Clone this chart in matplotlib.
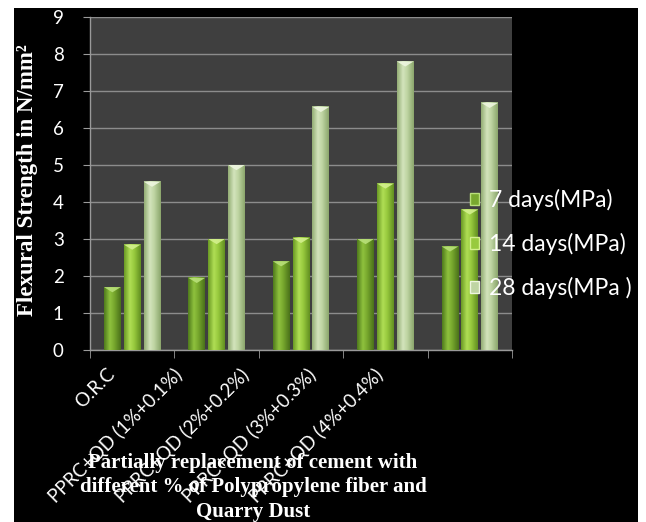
import numpy as np
import matplotlib
matplotlib.use("Agg")
import matplotlib.pyplot as plt
from matplotlib.colors import LinearSegmentedColormap
from matplotlib.patches import Rectangle, Patch, Polygon
from matplotlib.transforms import ScaledTranslation

# Flexural strength (N/mm2) per mix
mezclas = ["O.R.C", "PPRC+QD (1%+0.1%)", "PPRC+QD (2%+0.2%)",
           "PPRC+QD (3%+0.3%)", "PPRC+QD (4%+0.4%)"]
dias_7 = [1.7, 1.95, 2.4, 3.0, 2.8]
dias_14 = [2.85, 3.0, 3.03, 4.5, 3.8]
dias_28 = [4.55, 5.0, 6.57, 7.8, 6.68]
series = ["7 days(MPa)", "14 days(MPa)", "28 days(MPa )"]

# edge, highlight, mid, edge  (cylinder-like shading)
tonos = [
    ["#4f7a1c", "#8fc23e", "#78a82e", "#4a7219"],
    ["#6a9a24", "#b0de55", "#98ca3e", "#628f20"],
    ["#93ad74", "#d3e4bc", "#bfd5a3", "#8ba66c"],
]
tapas = ["#b9e07a", "#d4f08e", "#eef6e0"]

fuente = "Lato"
serif = "Liberation Serif"

fig = plt.figure(figsize=(6.46, 5.22), dpi=100, facecolor="white")
fondo = Rectangle((14 / 646, 0), (638 - 14) / 646, 1 - 8 / 522,
                  transform=fig.transFigure, facecolor="black",
                  edgecolor="none", zorder=-5)
fig.add_artist(fondo)

ax = fig.add_axes([90 / 646, 1 - 350 / 522, 422 / 646, 333 / 522])
ax.set_zorder(1)
ax.set_facecolor("#3f3f3f")

x = np.arange(len(mezclas))
ancho = 0.2
paso = 0.235
for k, valores in enumerate([dias_7, dias_14, dias_28]):
    cmap = LinearSegmentedColormap.from_list(f"s{k}", list(zip([0, 0.35, 0.6, 1], tonos[k])))
    grad = np.linspace(0, 1, 64).reshape(1, -1)
    for xi, v in zip(x + (k - 1) * paso, valores):
        x0, x1 = xi - ancho / 2, xi + ancho / 2
        ax.imshow(grad, cmap=cmap, extent=(x0, x1, 0, v), aspect="auto",
                  interpolation="bilinear", zorder=3)
        ax.add_patch(Polygon([(x0, v), (x1, v), (xi, v - 0.14)], closed=True,
                             facecolor=tapas[k], edgecolor="none", alpha=0.9, zorder=4))

ax.set_xlim(-0.5, len(mezclas) - 0.5)
ax.set_ylim(0, 9)
ax.set_yticks(range(0, 10))
ax.grid(axis="y", color="#8c8c8c", linewidth=1.0, zorder=1)
ax.set_axisbelow(True)

for s in ["top", "right"]:
    ax.spines[s].set_visible(False)
for s in ["left", "bottom"]:
    ax.spines[s].set_color("#9a9a9a")
    ax.spines[s].set_linewidth(1.0)

ax.tick_params(axis="y", colors="#9a9a9a", length=5, labelcolor="white",
               labelsize=13.5, pad=14)
for lab in ax.get_yticklabels():
    lab.set_fontfamily(fuente)

ax.set_xticks(x)
ax.set_xticks(np.arange(-0.5, len(mezclas)), minor=True)
ax.tick_params(axis="x", which="minor", length=6, color="#9a9a9a")
ax.tick_params(axis="x", which="major", length=0, pad=11, labelcolor="white")
ax.set_xticklabels(mezclas, rotation=45, ha="right", va="top",
                   rotation_mode="anchor", fontsize=13.5, fontfamily=fuente)
for i, lab in enumerate(ax.get_xticklabels()):
    lab.set_transform(lab.get_transform() +
                      ScaledTranslation(-(0.26 + 0.175 * i), 0, fig.dpi_scale_trans))

ax.set_ylabel("Flexural Strength in N/mm²", color="white", fontsize=16.5,
              fontweight="bold", fontfamily=serif, va="center")
ax.yaxis.set_label_coords(-0.149, 0.51)

ax.set_xlabel("Partially replacement of cement with\ndifferent % of Polypropylene fiber and\nQuarry Dust",
              color="white", fontsize=15, fontweight="bold", fontfamily=serif,
              linespacing=1.3, va="top")
ax.xaxis.set_label_coords(0.386, -0.309)

handles = [Patch(facecolor=tonos[k][2], edgecolor=tapas[k]) for k in range(3)]
leg = fig.legend(handles, series, loc="center left",
                 bbox_to_anchor=(470 / 646, 1 - 244 / 522), frameon=False,
                 prop={"family": fuente, "size": 16.5}, handlelength=0.4,
                 handleheight=0.4, handletextpad=0.45, labelspacing=0.95,
                 borderpad=0, borderaxespad=0)
leg.set_zorder(5)
for t in leg.get_texts():
    t.set_color("white")

fig.savefig("out.png", dpi=100, facecolor=fig.get_facecolor())
